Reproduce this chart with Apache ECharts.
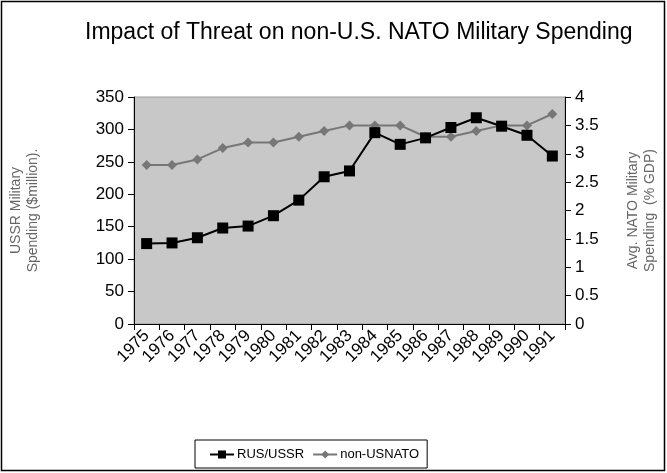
<!DOCTYPE html>
<html>
<head>
<meta charset="utf-8">
<script src="https://cdn.jsdelivr.net/npm/echarts@6/dist/echarts.min.js"></script>
<style>
  html, body { margin: 0; padding: 0; background: #fff; }
  #chart { width: 667px; height: 473px; }
</style>
</head>
<body>
<div id="chart"></div>
<script>
const years = ['1975', '1976', '1977', '1978', '1979', '1980', '1981', '1982', '1983',
  '1984', '1985', '1986', '1987', '1988', '1989', '1990', '1991']
// USSR spending, $million (left axis)
const russia = [124, 125, 133, 148, 151, 167, 191, 227, 236, 295, 277, 287, 303, 318, 305, 291, 259]
// non-US NATO spending, % GDP (right axis)
const nato = [2.8, 2.8, 2.9, 3.1, 3.2, 3.2, 3.3, 3.4, 3.5, 3.5, 3.5, 3.3, 3.3, 3.4, 3.5, 3.5, 3.7]

const font = 'Liberation Sans, Arial, sans-serif'
const chart = echarts.init(document.getElementById('chart'))

chart.setOption({
  animation: false,
  textStyle: { fontFamily: font },
  title: {
    text: 'Impact of Threat on non-U.S. NATO Military Spending',
    left: 80,
    top: 16,
    textStyle: { fontSize: 23, fontWeight: 'normal', color: '#000', fontFamily: font }
  },
  graphic: [{
    type: 'rect',
    shape: { x: 1.5, y: 1.5, width: 663, height: 469 },
    style: { fill: 'none', stroke: '#000', lineWidth: 1.5 },
    silent: true
  }],
  grid: {
    left: 133, right: 90, top: 97, bottom: 149,
    show: true,
    backgroundColor: '#c8c8c8',
    borderColor: '#999',
    borderWidth: 1
  },
  legend: {
    top: 440,
    left: 195,
    itemWidth: 24,
    itemHeight: 10,
    itemGap: 8,
    padding: [8, 8, 7, 14],
    borderColor: '#000',
    borderWidth: 1,
    textStyle: { fontSize: 13, color: '#000', fontFamily: font, padding: [0, 0, 0, -2] },
    data: ['RUS/USSR', 'non-USNATO']
  },
  xAxis: {
    type: 'category',
    data: years,
    boundaryGap: true,
    axisLine: { lineStyle: { color: '#000', width: 1 } },
    axisTick: { show: true, length: 6, lineStyle: { color: '#000' } },
    axisLabel: { rotate: 45, fontSize: 17, color: '#000', margin: 9, interval: 0 },
    splitLine: { show: false }
  },
  yAxis: [{
    type: 'value',
    min: 0, max: 350, interval: 50,
    name: 'USSR Military\nSpending ($million).',
    nameLocation: 'middle',
    nameRotate: 90,
    nameGap: 92,
    nameTextStyle: { fontSize: 14, color: '#666', lineHeight: 17 },
    axisLine: { show: true, lineStyle: { color: '#000' } },
    axisTick: { show: true, length: 6, lineStyle: { color: '#000' } },
    axisLabel: { fontSize: 17, color: '#000', margin: 10 },
    splitLine: { show: false }
  }, {
    type: 'value',
    min: 0, max: 4, interval: 0.5,
    name: 'Avg. NATO Military\nSpending  (% GDP)',
    nameLocation: 'middle',
    nameRotate: 90,
    nameGap: 60,
    nameTextStyle: { fontSize: 14, color: '#666', lineHeight: 17 },
    axisLine: { show: true, lineStyle: { color: '#000' } },
    axisTick: { show: true, length: 6, lineStyle: { color: '#000' } },
    axisLabel: { fontSize: 17, color: '#000', margin: 10 },
    splitLine: { show: false }
  }],
  series: [{
    name: 'RUS/USSR',
    type: 'line',
    yAxisIndex: 0,
    data: russia,
    symbol: 'rect',
    symbolSize: 11,
    itemStyle: { color: '#000' },
    lineStyle: { color: '#000', width: 2 },
    z: 3
  }, {
    name: 'non-USNATO',
    type: 'line',
    yAxisIndex: 1,
    data: nato,
    symbol: 'diamond',
    symbolSize: 10,
    itemStyle: { color: '#777' },
    lineStyle: { color: '#777', width: 2 },
    z: 2
  }]
})
</script>
</body>
</html>
